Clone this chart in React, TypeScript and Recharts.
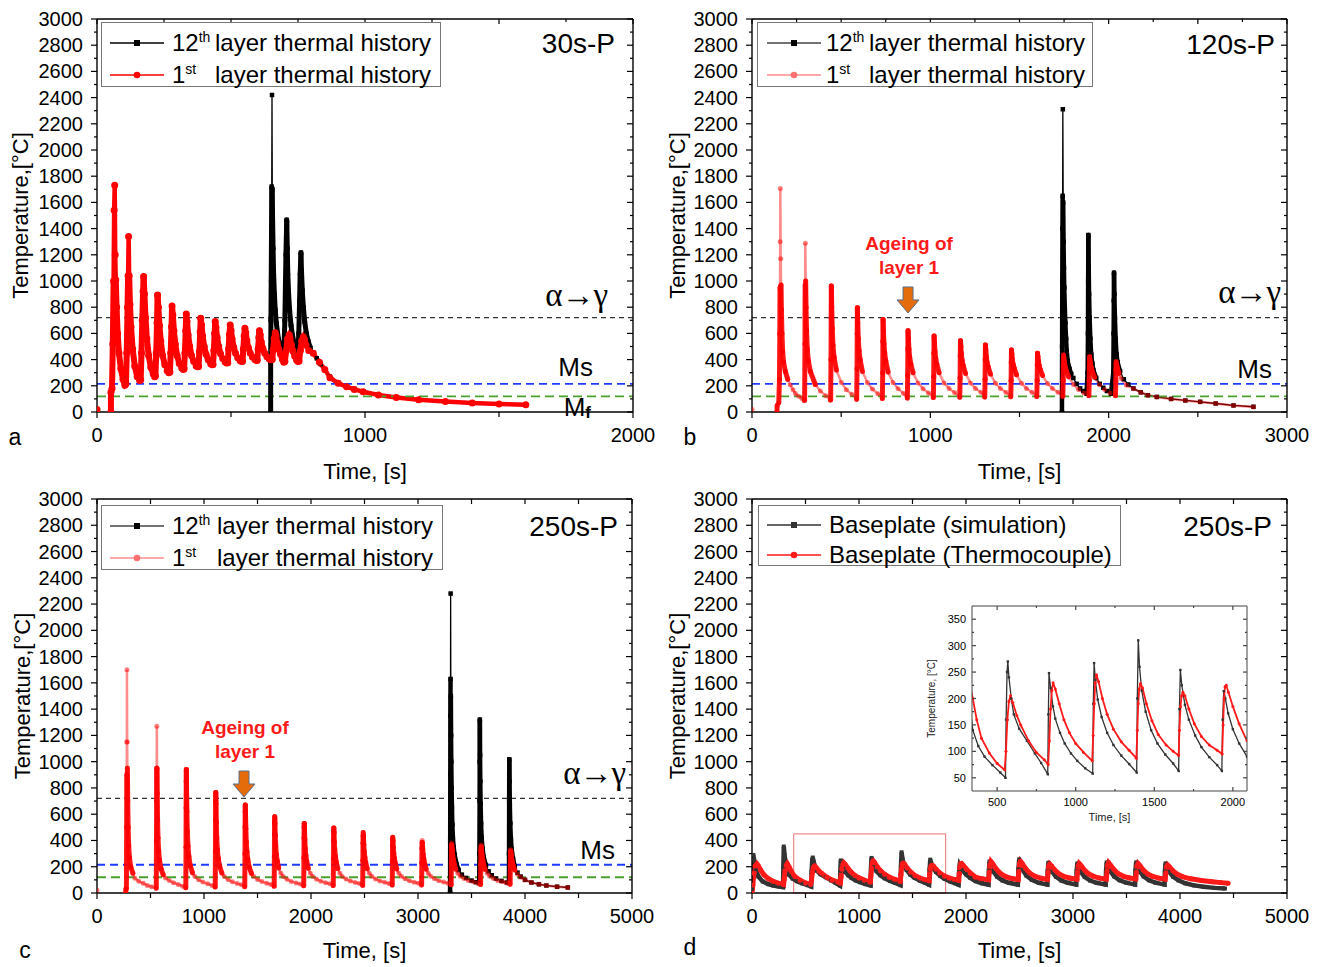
import React from "react";
import {
  LineChart,
  Line,
  XAxis,
  YAxis,
  ReferenceLine,
  ReferenceDot,
  ReferenceArea,
  Legend,
} from "recharts";

type Pt = [number, number | null];
type Row = { t: number; T: number | null };
const rows = (pts: Pt[]): Row[] => pts.map(([t, T]) => ({ t, T }));

// phase transformation temperatures, °C
const ALPHA_GAMMA = 720;
const MS_TEMP = 215;
const MF_TEMP = 120;

const Y_TICKS = [
  0, 100, 200, 300, 400, 500, 600, 700, 800, 900, 1000, 1100, 1200, 1300, 1400,
  1500, 1600, 1700, 1800, 1900, 2000, 2100, 2200, 2300, 2400, 2500, 2600, 2700,
  2800, 2900, 3000,
];
const X2000_TICKS = [0, 500, 1000, 1500, 2000];
const X2000_TOP = [0, 250, 500, 750, 1000, 1250, 1500, 1750, 2000];
const X3000_TICKS = [0, 500, 1000, 1500, 2000, 2500, 3000];
const X3000_TOP = [0, 250, 500, 750, 1000, 1250, 1500, 1750, 2000, 2250, 2500, 2750, 3000];
const X5000_TICKS = [0, 500, 1000, 1500, 2000, 2500, 3000, 3500, 4000, 4500, 5000];
const INSET_X_TICKS = [500, 750, 1000, 1250, 1500, 1750, 2000];
const INSET_Y_TICKS = [50, 75, 100, 125, 150, 175, 200, 225, 250, 275, 300, 325, 350];

// ---- a) 30s-P ----
const A_LAYER12: Pt[] = [
  [648, 0], [648, 380], [649, 700], [650, 1000], [651, 1300], [652, 1720], [653, 2420],
  [654, 1700], [655, 1500], [657, 1250], [659, 1050], [662, 900], [665, 780], [669, 680],
  [674, 600], [680, 530], [687, 480], [693, 460], [698, 500], [701, 700], [703, 950],
  [705, 1200], [708, 1466], [710, 1250], [712, 1050], [715, 900], [719, 770], [724, 660],
  [730, 580], [737, 510], [744, 470], [750, 465], [753, 600], [756, 850], [758, 1050],
  [761, 1216], [763, 1080], [766, 930], [770, 800], [775, 690], [781, 600], [788, 540],
  [796, 490], [807, 455], [820, 410], [835, 365], [850, 320], [869, 270], [900, 225],
  [931, 197], [960, 176], [993, 158], [1050, 132], [1117, 112], [1200, 96], [1300, 81],
  [1400, 71], [1500, 62], [1600, 56],
];
const A_LAYER1: Pt[] = [
  [0, 20], [1, null], [52, 0], [52, 150], [56, 180], [59, 520], [62, 1000], [64, 1540], [66, 1730],
  [68, 1200], [70, 1010], [73, 800], [77, 600], [82, 450], [89, 330], [97, 250], [104, 205],
  [108, 215], [111, 450], [114, 800], [116, 1040], [118, 1340], [120, 1040], [123, 820], [127, 650],
  [133, 480], [141, 350], [150, 270], [159, 240],
  [163, 245], [166, 450], [169, 700], [172, 920], [174, 1035], [177, 900], [181, 720], [186, 560],
  [193, 430], [201, 340], [210, 290], [215, 270],
  [218, 275], [221, 450], [224, 680], [226, 893], [229, 800], [233, 660], [238, 540], [245, 430],
  [253, 360], [262, 315], [268, 300],
  [272, 305], [275, 450], [278, 650], [280, 810], [283, 740], [287, 620], [292, 520], [299, 430],
  [307, 370], [316, 335], [322, 325],
  [325, 330], [328, 450], [331, 620], [333, 748], [336, 690], [340, 590], [346, 500], [353, 430],
  [361, 385], [370, 352], [376, 345],
  [379, 348], [382, 460], [385, 610], [387, 715], [390, 665], [394, 580], [400, 500], [407, 440],
  [415, 398], [424, 368], [430, 360],
  [433, 362], [436, 470], [439, 600], [441, 690], [444, 645], [448, 570], [454, 500], [461, 445],
  [469, 408], [478, 382], [484, 374],
  [488, 376], [491, 480], [494, 590], [497, 665], [500, 625], [504, 560], [510, 495], [517, 448],
  [525, 415], [534, 392], [540, 385],
  [543, 387], [546, 480], [549, 580], [552, 640], [555, 605], [559, 545], [565, 490], [572, 448],
  [580, 420], [589, 400], [595, 394],
  [598, 395], [601, 480], [604, 570], [606, 620], [609, 590], [613, 535], [619, 485], [626, 448],
  [634, 422], [643, 405], [650, 398],
  [654, 400], [657, 470], [661, 560], [665, 605], [668, 580], [672, 530], [678, 480], [685, 440],
  [692, 400], [697, 380],
  [701, 385], [706, 470], [711, 560], [717, 590], [720, 565], [725, 515], [731, 465], [738, 425],
  [745, 395], [750, 385],
  [754, 390], [759, 470], [764, 545], [770, 575], [774, 555], [780, 510], [790, 470], [807, 448],
  [830, 380], [850, 325], [869, 262], [900, 220], [931, 193], [960, 172], [993, 155], [1050, 130],
  [1117, 110], [1200, 94], [1300, 80], [1400, 69], [1500, 61], [1600, 55],
];

// ---- b) 120s-P ----
const B_LAYER12: Pt[] = [
  [1738, 0], [1739, 500], [1740, 1000], [1741, 1400], [1742, 1650], [1743, 2311], [1745, 1600],
  [1747, 1300], [1749, 1100], [1751, 950], [1754, 800], [1757, 680], [1761, 560], [1765, 460],
  [1770, 390], [1780, 330], [1790, 290], [1802, 260], [1820, 215], [1840, 180], [1858, 160],
  [1876, 140], [1882, 300], [1884, 600], [1885, 1000], [1886, 1351], [1888, 1100], [1890, 900],
  [1893, 720], [1897, 560], [1902, 440], [1908, 370], [1914, 320], [1930, 260], [1950, 215],
  [1970, 185], [1990, 160], [2013, 140], [2026, 300], [2028, 600], [2029, 850], [2030, 1063],
  [2032, 900], [2035, 720], [2039, 560], [2044, 440], [2050, 380], [2064, 310], [2085, 250],
  [2110, 210], [2139, 180], [2180, 150], [2220, 128], [2270, 115], [2350, 100], [2430, 88],
  [2513, 78], [2600, 65], [2700, 50], [2812, 40],
];
const B_LAYER1: Pt[] = [
  [0, 20], [1, null], [140, 0], [141, 50], [150, 70], [154, 250], [156, 600], [157, 950], [158, 1300],
  [159, 1707], [161, 1170], [163, 970], [165, 780], [168, 600], [172, 460], [177, 380], [187, 310],
  [200, 250], [215, 206], [230, 170], [243, 142], [262, 120], [280, 104], [293, 85],
  [295, 90], [297, 520], [298, 970], [299, 1288], [301, 1000], [303, 800], [306, 620], [310, 480],
  [316, 390], [327, 310], [355, 210], [383, 160], [414, 125], [439, 92],
  [441, 92], [443, 400], [444, 720], [445, 962], [447, 800], [450, 640], [454, 510], [460, 420],
  [473, 320], [501, 225], [529, 170], [560, 135], [587, 97],
  [589, 330], [590, 600], [591, 796], [593, 680], [596, 560], [600, 470], [606, 400], [619, 310],
  [647, 225], [675, 175], [706, 140], [731, 103],
  [733, 300], [734, 540], [735, 707], [737, 620], [740, 520], [744, 450], [750, 390], [763, 305],
  [791, 225], [819, 178], [850, 142], [871, 106],
  [873, 280], [874, 480], [875, 621], [877, 560], [880, 480], [884, 420], [890, 370], [903, 300],
  [931, 222], [959, 178], [990, 145], [1017, 110],
  [1019, 270], [1020, 450], [1021, 580], [1023, 530], [1026, 460], [1030, 410], [1036, 365],
  [1049, 300], [1077, 222], [1105, 180], [1136, 148], [1165, 112],
  [1167, 260], [1168, 430], [1169, 544], [1171, 500], [1174, 440], [1178, 395], [1184, 355],
  [1197, 295], [1225, 222], [1253, 180], [1284, 150], [1305, 114],
  [1307, 250], [1308, 400], [1309, 511], [1311, 475], [1314, 420], [1318, 380], [1324, 345],
  [1337, 290], [1365, 220], [1393, 180], [1424, 150], [1451, 116],
  [1453, 240], [1454, 380], [1455, 473], [1457, 445], [1460, 400], [1464, 365], [1470, 335],
  [1483, 285], [1511, 220], [1539, 180], [1570, 150], [1597, 118],
  [1599, 240], [1600, 360], [1601, 448], [1603, 425], [1606, 390], [1610, 355], [1616, 325],
  [1629, 280], [1657, 218], [1685, 180], [1716, 150], [1743, 120],
  [1745, 240], [1746, 350], [1747, 435], [1749, 415], [1752, 380], [1756, 345], [1762, 315],
  [1775, 270], [1803, 210], [1831, 172], [1862, 145], [1889, 125],
  [1891, 240], [1892, 340], [1893, 422], [1895, 405], [1898, 370], [1902, 340], [1908, 310],
  [1921, 265], [1949, 208], [1977, 172], [2008, 145], [2038, 125],
  [2040, 230], [2041, 320], [2042, 384], [2044, 370], [2047, 345], [2051, 320], [2057, 295],
  [2070, 255], [2100, 205], [2139, 178], [2180, 150], [2220, 128], [2270, 114], [2350, 100],
  [2430, 88], [2513, 77], [2600, 64], [2700, 50], [2812, 38],
];

// ---- c) 250s-P ----
const C_LAYER12: Pt[] = [
  [3300, 0], [3301, 400], [3302, 900], [3303, 1350], [3304, 1630], [3305, 2280], [3307, 1500],
  [3309, 1200], [3311, 1000], [3314, 800], [3317, 650], [3321, 520], [3326, 420], [3333, 350],
  [3343, 290], [3360, 220], [3380, 175], [3410, 140], [3450, 115], [3500, 95], [3540, 82],
  [3572, 75], [3574, 300], [3576, 700], [3577, 1000], [3578, 1320], [3580, 1050], [3582, 850],
  [3585, 680], [3589, 530], [3595, 420], [3603, 340], [3615, 270], [3635, 210], [3660, 165],
  [3690, 135], [3730, 110], [3780, 92], [3830, 80], [3850, 76], [3851, 300], [3852, 700],
  [3853, 1018], [3855, 850], [3858, 680], [3862, 530], [3868, 410], [3876, 330], [3888, 260],
  [3905, 200], [3930, 155], [3960, 125], [4000, 100], [4060, 80], [4130, 66], [4200, 57],
  [4300, 48], [4400, 42],
];
const C_LAYER1: Pt[] = [
  [0, 20], [1, null], [268, 0], [270, 30], [275, 35], [277, 500], [278, 900], [279, 1150], [280, 1700],
  [282, 1150], [284, 950], [287, 700], [291, 500], [296, 360], [303, 270], [315, 200], [335, 150],
  [354, 112], [390, 90], [432, 74], [470, 58], [511, 48], [554, 36],
  [556, 400], [557, 700], [558, 950], [559, 1270], [561, 950], [563, 760], [566, 560], [570, 420],
  [576, 320], [584, 250], [598, 185], [618, 140], [640, 115], [675, 95], [715, 78], [760, 65],
  [800, 52], [830, 40],
  [832, 350], [833, 650], [834, 850], [835, 940], [837, 800], [840, 620], [844, 470], [850, 360],
  [858, 280], [872, 205], [892, 155], [915, 125], [950, 100], [990, 83], [1035, 70], [1075, 58],
  [1105, 45],
  [1107, 320], [1108, 560], [1109, 700], [1110, 765], [1112, 680], [1115, 540], [1119, 420],
  [1125, 330], [1133, 265], [1147, 200], [1167, 152], [1190, 125], [1225, 102], [1265, 85],
  [1310, 73], [1350, 62], [1381, 48],
  [1383, 300], [1384, 500], [1385, 620], [1386, 670], [1388, 600], [1391, 490], [1395, 390],
  [1401, 315], [1409, 255], [1423, 195], [1443, 150], [1466, 125], [1501, 103], [1541, 87],
  [1586, 75], [1626, 65], [1656, 52],
  [1658, 280], [1659, 450], [1660, 540], [1661, 580], [1663, 530], [1666, 440], [1670, 360],
  [1676, 295], [1684, 245], [1698, 190], [1718, 150], [1741, 125], [1776, 104], [1816, 88],
  [1861, 77], [1901, 68], [1932, 55],
  [1934, 270], [1935, 420], [1936, 500], [1937, 530], [1939, 490], [1942, 410], [1946, 340],
  [1952, 285], [1960, 240], [1974, 188], [1994, 150], [2017, 126], [2052, 105], [2092, 90],
  [2137, 78], [2177, 70], [2208, 57],
  [2210, 260], [2211, 400], [2212, 470], [2213, 495], [2215, 460], [2218, 390], [2222, 330],
  [2228, 280], [2236, 236], [2250, 186], [2270, 150], [2293, 126], [2328, 106], [2368, 91],
  [2413, 80], [2453, 72], [2483, 58],
  [2485, 250], [2486, 380], [2487, 440], [2488, 460], [2490, 430], [2493, 370], [2497, 318],
  [2503, 272], [2511, 232], [2525, 185], [2545, 150], [2568, 127], [2603, 107], [2643, 92],
  [2688, 81], [2728, 73], [2759, 60],
  [2761, 240], [2762, 360], [2763, 410], [2764, 425], [2766, 400], [2769, 350], [2773, 305],
  [2779, 265], [2787, 228], [2801, 183], [2821, 150], [2844, 127], [2879, 108], [2919, 93],
  [2964, 82], [3004, 74], [3034, 61],
  [3036, 230], [3037, 340], [3038, 385], [3039, 400], [3041, 380], [3044, 335], [3048, 295],
  [3054, 258], [3062, 225], [3076, 182], [3096, 150], [3119, 128], [3154, 109], [3194, 94],
  [3239, 83], [3279, 75], [3310, 62],
  [3312, 230], [3313, 330], [3314, 365], [3315, 380], [3317, 362], [3320, 325], [3324, 290],
  [3330, 255], [3338, 222], [3352, 182], [3372, 150], [3395, 128], [3430, 110], [3470, 96],
  [3515, 85], [3555, 77], [3585, 64],
  [3587, 220], [3588, 320], [3589, 352], [3590, 365], [3592, 350], [3595, 315], [3599, 282],
  [3605, 250], [3613, 218], [3627, 180], [3647, 150], [3670, 128], [3705, 110], [3745, 96],
  [3790, 85], [3830, 77], [3861, 66],
  [3863, 210], [3864, 290], [3865, 320], [3866, 330], [3868, 318], [3871, 292], [3875, 265],
  [3881, 238], [3889, 210], [3905, 175], [3930, 142], [3960, 120], [4000, 100], [4060, 80],
  [4130, 66], [4200, 57], [4300, 48], [4400, 42],
];

// ---- d) 250s-P baseplate ----
const D_SIMULATION: Pt[] = [
  [0, 30], [5, 150], [12, 290], [20, 250], [35, 180], [60, 125], [100, 88], [150, 68], [200, 57],
  [250, 50], [290, 45], [293, 200], [297, 354], [305, 285], [320, 205], [345, 140], [380, 110],
  [420, 90], [470, 74], [520, 60], [553, 50], [557, 160], [563, 250], [568, 270], [575, 240],
  [590, 200], [606, 170], [640, 143], [690, 120], [740, 96], [780, 78], [822, 57], [826, 170],
  [830, 248], [840, 220], [855, 185], [870, 162], [900, 135], [930, 115], [970, 96], [1010, 82],
  [1060, 68], [1108, 58], [1112, 190], [1117, 267], [1125, 235], [1140, 198], [1165, 165],
  [1200, 135], [1240, 112], [1290, 92], [1340, 76], [1388, 60], [1392, 200], [1398, 310],
  [1406, 260], [1420, 215], [1445, 175], [1480, 140], [1520, 115], [1570, 94], [1620, 77],
  [1655, 63], [1660, 180], [1666, 254], [1675, 225], [1695, 188], [1720, 160], [1760, 130],
  [1800, 108], [1850, 89], [1900, 74], [1930, 63], [1935, 160], [1942, 214], [1952, 200],
  [1970, 172], [2000, 142], [2040, 115], [2090, 90], [2150, 74], [2210, 63], [2214, 170],
  [2220, 240], [2230, 215], [2255, 165], [2290, 125], [2340, 96], [2400, 78], [2485, 64],
  [2490, 180], [2497, 256], [2507, 225], [2530, 175], [2565, 132], [2615, 100], [2680, 78],
  [2760, 64], [2764, 165], [2770, 230], [2780, 208], [2805, 162], [2840, 124], [2890, 96],
  [2950, 78], [3030, 64], [3034, 165], [3040, 225], [3050, 205], [3075, 160], [3110, 122],
  [3160, 95], [3220, 78], [3305, 64], [3309, 170], [3315, 233], [3325, 212], [3350, 165],
  [3385, 126], [3435, 97], [3495, 79], [3580, 64], [3584, 170], [3590, 233], [3600, 212],
  [3625, 165], [3660, 126], [3710, 97], [3770, 79], [3855, 64], [3859, 165], [3865, 225],
  [3875, 205], [3900, 162], [3935, 125], [3985, 96], [4050, 74], [4130, 58], [4220, 47],
  [4320, 39], [4420, 34],
];
const D_THERMOCOUPLE: Pt[] = [
  [0, 0], [8, 60], [18, 150], [30, 205], [45, 222], [60, 205], [80, 175], [110, 140], [150, 110],
  [200, 88], [250, 74], [295, 62], [300, 100], [310, 170], [320, 210], [330, 222], [345, 200],
  [370, 160], [400, 125], [450, 97], [500, 77], [548, 65], [556, 100], [565, 160], [575, 195],
  [585, 205], [600, 192], [625, 168], [650, 150], [700, 120], [750, 98], [800, 84], [825, 75],
  [832, 120], [840, 180], [848, 215], [856, 230], [870, 218], [895, 190], [925, 160], [960, 135],
  [1000, 115], [1050, 98], [1105, 82], [1111, 130], [1118, 190], [1124, 230], [1132, 245],
  [1145, 232], [1170, 200], [1200, 170], [1240, 142], [1290, 118], [1340, 102], [1386, 87],
  [1392, 140], [1398, 190], [1404, 218], [1412, 228], [1425, 220], [1450, 190], [1485, 158],
  [1525, 132], [1575, 112], [1620, 100], [1655, 92], [1660, 140], [1667, 185], [1674, 205],
  [1682, 212], [1695, 205], [1720, 180], [1755, 152], [1800, 128], [1850, 112], [1900, 102],
  [1932, 95], [1938, 150], [1944, 200], [1950, 222], [1958, 225], [1972, 212], [2000, 185],
  [2040, 152], [2090, 120], [2150, 108], [2212, 100], [2218, 160], [2225, 215], [2233, 240],
  [2250, 222], [2280, 185], [2320, 150], [2370, 125], [2430, 110], [2488, 102], [2494, 165],
  [2501, 220], [2508, 242], [2525, 225], [2555, 188], [2595, 152], [2645, 127], [2705, 112],
  [2762, 104], [2768, 160], [2775, 205], [2782, 220], [2800, 205], [2830, 175], [2870, 145],
  [2920, 124], [2980, 112], [3037, 105], [3043, 160], [3050, 210], [3057, 225], [3075, 208],
  [3105, 176], [3145, 146], [3195, 125], [3255, 113], [3312, 106], [3318, 165], [3325, 215],
  [3332, 230], [3350, 212], [3380, 180], [3420, 148], [3470, 127], [3530, 114], [3587, 107],
  [3593, 160], [3600, 210], [3607, 225], [3625, 208], [3655, 176], [3695, 146], [3745, 126],
  [3805, 113], [3862, 106], [3868, 155], [3875, 200], [3882, 214], [3900, 200], [3930, 172],
  [3970, 145], [4020, 125], [4100, 108], [4200, 95], [4300, 85], [4380, 79], [4450, 75],
];

// ---------- drawing helpers ----------
const FONT = "'Liberation Sans', Arial, sans-serif";

type TickOpts = {
  vertical: boolean;
  toAxis: number;
  dir: 1 | -1;
  isMajor: (v: number) => boolean;
  majorLen: number;
  minorLen: number;
  color?: string;
  label?: { gap: number; size: number };
};

function makeTick(o: TickOpts) {
  const color = o.color || "#000";
  return (p: any) => {
    const v = p.payload?.value;
    const major = o.isMajor(v);
    const len = major ? o.majorLen : o.minorLen;
    if (o.vertical) {
      const ax = p.x + o.toAxis;
      return (
        <g>
          <line x1={ax} x2={ax + o.dir * len} y1={p.y} y2={p.y} stroke={color} strokeWidth={1.2} />
          {o.label && major ? (
            <text x={ax - o.label.gap} y={p.y} textAnchor="end" dominantBaseline="central" fontSize={o.label.size} fill="#000">
              {v}
            </text>
          ) : null}
        </g>
      );
    }
    const ay = p.y + o.toAxis;
    return (
      <g>
        <line x1={p.x} x2={p.x} y1={ay} y2={ay + o.dir * len} stroke={color} strokeWidth={1.2} />
        {o.label && major ? (
          <text x={p.x} y={ay + o.label.gap} textAnchor="middle" dominantBaseline="central" fontSize={o.label.size} fill="#000">
            {v}
          </text>
        ) : null}
      </g>
    );
  };
}

const leftTick = makeTick({ vertical: true, toAxis: 6, dir: -1, isMajor: (v) => v % 200 === 0, majorLen: 6, minorLen: 3, label: { gap: 14, size: 20 } });
const rightTick = makeTick({ vertical: true, toAxis: 6, dir: -1, isMajor: (v) => v % 200 === 0, majorLen: 6, minorLen: 3 });
const bottomTick = makeTick({ vertical: false, toAxis: -6, dir: 1, isMajor: (v) => v % 1000 === 0, majorLen: 6, minorLen: 5, label: { gap: 23, size: 20 } });
const topTick = makeTick({ vertical: false, toAxis: -6, dir: 1, isMajor: (v) => v % 500 === 0, majorLen: 5, minorLen: 3 });

const insetLeft = makeTick({ vertical: true, toAxis: -6, dir: 1, isMajor: (v) => v % 50 === 0, majorLen: 4, minorLen: 2, color: "#444", label: { gap: 6, size: 11 } });
const insetRight = makeTick({ vertical: true, toAxis: 6, dir: -1, isMajor: (v) => v % 50 === 0, majorLen: 4, minorLen: 2, color: "#444" });
const insetBottom = makeTick({ vertical: false, toAxis: 6, dir: -1, isMajor: (v) => v % 500 === 0, majorLen: 4, minorLen: 2, color: "#444", label: { gap: 11, size: 11 } });
const insetTop = makeTick({ vertical: false, toAxis: -6, dir: 1, isMajor: (v) => v % 500 === 0, majorLen: 4, minorLen: 2, color: "#444" });

type DotStyle = {
  kind: "circle" | "square";
  size: number;
  fill: string;
  seg?: { width: number; color: string; cap: number };
};

// marker for every sample; steep heating/cooling segments are drawn thicker,
// the way the densely sampled spikes look in the original figure
function makeDot(s: DotStyle) {
  return (p: any) => {
    const { cx, cy, index, points, payload } = p;
    const key = p.key ?? `dot-${index}`;
    if (cx == null || cy == null || payload?.T == null) return <g key={key} />;
    let seg: React.ReactNode = null;
    const n = points ? points[index + 1] : null;
    if (s.seg && n && n.y != null && n.payload?.T != null) {
      const dx = Math.abs(n.x - cx);
      const dy = Math.abs(n.y - cy);
      const hi = Math.max(payload.T, n.payload.T);
      if (dy > 2.5 * dx && dy > 3 && hi <= s.seg.cap) {
        seg = <line x1={cx} y1={cy} x2={n.x} y2={n.y} stroke={s.seg.color} strokeWidth={s.seg.width} strokeLinecap="round" />;
      }
    }
    const mark =
      s.kind === "square" ? (
        <rect x={cx - s.size / 2} y={cy - s.size / 2} width={s.size} height={s.size} fill={s.fill} />
      ) : (
        <circle cx={cx} cy={cy} r={s.size / 2} fill={s.fill} />
      );
    return (
      <g key={key}>
        {seg}
        {mark}
      </g>
    );
  };
}

const lineLabel =
  (text: React.ReactNode, fromRight: number, dy: number, size: number, family?: string, spacing?: number) =>
  (p: any) => {
    const vb = p.viewBox || {};
    return (
      <text x={vb.x + vb.width - fromRight} y={vb.y + dy} textAnchor="end" fontSize={size} fontFamily={family} letterSpacing={spacing} fill="#000">
        {text}
      </text>
    );
  };

const AgeingMark = (p: any) => {
  const { cx, cy } = p;
  return (
    <g>
      <text x={cx + 1} y={cy - 69} textAnchor="middle" dominantBaseline="central" fontSize={19} fontWeight="bold" fill="#ff1a1a">
        Ageing of
      </text>
      <text x={cx + 1} y={cy - 45} textAnchor="middle" dominantBaseline="central" fontSize={19} fontWeight="bold" fill="#ff1a1a">
        layer 1
      </text>
      <path d={`M${cx - 5},${cy - 26} h10 v13 h6 l-11,13 l-11,-13 h6 z`} fill="#e46c0a" stroke="#5b6f8a" strokeWidth={1} />
    </g>
  );
};

type LegendRow = { sym: "square" | "circle"; line: string; fill: string; lead: React.ReactNode; rest?: string };
type LegendBox = { left: number; top: number; width: number; height: number; lineX: number; textX: number; restX: number; rows: LegendRow[] };

function legendContent(b: LegendBox) {
  return () => (
    <div
      style={{
        position: "relative",
        width: b.width,
        height: b.height,
        border: "1px solid #777",
        boxSizing: "border-box",
        background: "#fff",
        fontFamily: FONT,
        color: "#000",
      }}
    >
      {b.rows.map((r, i) => {
        const cy = i === 0 ? b.height * 0.31 : b.height * 0.8;
        return (
          <div key={i}>
            <svg style={{ position: "absolute", left: b.lineX, top: cy - 7 }} width={56} height={14}>
              <line x1={0} x2={54} y1={7} y2={7} stroke={r.line} strokeWidth={1.5} />
              {r.sym === "square" ? <rect x={24} y={4} width={6} height={6} fill={r.fill} /> : <circle cx={27} cy={7} r={3.3} fill={r.fill} />}
            </svg>
            <span style={{ position: "absolute", left: b.textX, top: cy, transform: "translateY(-50%)", fontSize: 24, lineHeight: "26px", whiteSpace: "nowrap" }}>
              {r.lead}
            </span>
            {r.rest ? (
              <span style={{ position: "absolute", left: b.restX, top: cy, transform: "translateY(-50%)", fontSize: 24, lineHeight: "26px", whiteSpace: "nowrap" }}>
                {r.rest}
              </span>
            ) : null}
          </div>
        );
      })}
    </div>
  );
}

const sup = (s: string) => <sup style={{ fontSize: 14, verticalAlign: "9px", lineHeight: 0 }}>{s}</sup>;

type PanelCfg = {
  left: number;
  top: number;
  width: number;
  height: number;
  yAxisW: number;
  marginTop: number;
  marginRight: number;
  xAxisH: number;
  xMax: number;
  xTicks: number[];
  topTicks: number[];
  xTitleDy: number;
  yTitleX: number;
  legend: LegendBox;
};

function Panel({ cfg, children }: { cfg: PanelCfg; children: React.ReactNode }) {
  const frame = { stroke: "#000", strokeWidth: 1.4 };
  return (
    <div style={{ position: "absolute", left: cfg.left, top: cfg.top }}>
      <LineChart width={cfg.width} height={cfg.height} margin={{ top: cfg.marginTop, right: cfg.marginRight, bottom: 0, left: 0 }}>
        <XAxis
          xAxisId="b"
          dataKey="t"
          type="number"
          domain={[0, cfg.xMax]}
          ticks={cfg.xTicks}
          interval={0}
          height={cfg.xAxisH}
          tickSize={6}
          tickMargin={0}
          tickLine={false}
          axisLine={frame}
          tick={bottomTick}
          allowDataOverflow
          label={(p: any) => (
            <text x={p.viewBox.x + p.viewBox.width / 2} y={p.viewBox.y + cfg.xTitleDy} textAnchor="middle" dominantBaseline="central" fontSize={22} fill="#000">
              Time, [s]
            </text>
          )}
        />
        <XAxis
          xAxisId="t"
          dataKey="t"
          orientation="top"
          mirror
          type="number"
          domain={[0, cfg.xMax]}
          ticks={cfg.topTicks}
          interval={0}
          tickSize={6}
          tickMargin={0}
          tickLine={false}
          axisLine={frame}
          tick={topTick}
          allowDataOverflow
        />
        <YAxis
          yAxisId="l"
          type="number"
          domain={[0, 3000]}
          ticks={Y_TICKS}
          interval={0}
          width={cfg.yAxisW}
          tickSize={6}
          tickMargin={0}
          tickLine={false}
          axisLine={frame}
          tick={leftTick}
          allowDataOverflow
          label={(p: any) => {
            const x = p.viewBox.x + cfg.yTitleX;
            const y = p.viewBox.y + p.viewBox.height / 2;
            return (
              <text x={x} y={y} transform={`rotate(-90 ${x} ${y})`} textAnchor="middle" dominantBaseline="central" fontSize={22} fill="#000">
                Temperature,[°C]
              </text>
            );
          }}
        />
        <YAxis
          yAxisId="r"
          orientation="right"
          mirror
          type="number"
          domain={[0, 3000]}
          ticks={Y_TICKS}
          interval={0}
          tickSize={6}
          tickMargin={0}
          tickLine={false}
          axisLine={frame}
          tick={rightTick}
          allowDataOverflow
        />
        {children}
        <Legend
          layout="vertical"
          align="center"
          verticalAlign="middle"
          wrapperStyle={{ left: cfg.legend.left, top: cfg.legend.top, width: cfg.legend.width, height: cfg.legend.height }}
          content={legendContent(cfg.legend)}
        />
      </LineChart>
    </div>
  );
}

const redOpaque = makeDot({ kind: "circle", size: 7, fill: "#ff0000", seg: { width: 6, color: "#ff0000", cap: 1100 } });
const blackA = makeDot({ kind: "square", size: 4.5, fill: "#000", seg: { width: 5, color: "#000", cap: 1750 } });
const redSoft = makeDot({ kind: "circle", size: 5, fill: "rgba(255,0,0,0.5)", seg: { width: 5, color: "rgba(255,0,0,0.9)", cap: 1000 } });
const blackBC = makeDot({ kind: "square", size: 4.5, fill: "#000", seg: { width: 4.5, color: "#000", cap: 1700 } });
const blackD = makeDot({ kind: "square", size: 4, fill: "#333" });
const redD = makeDot({ kind: "circle", size: 5, fill: "#ff1a1a" });
const blackInset = makeDot({ kind: "square", size: 2.4, fill: "#333" });
const redInset = makeDot({ kind: "circle", size: 3, fill: "#ff1a1a" });

const SERIF = "'Liberation Serif', 'DejaVu Serif', serif";

const phaseLines = (agRight: number, agDy: number, msRight: number, msDy: number, withMf: boolean) => [
  <ReferenceLine
    key="ag"
    xAxisId="b"
    yAxisId="l"
    y={ALPHA_GAMMA}
    stroke="#333"
    strokeWidth={1.3}
    strokeDasharray="5 4"
    label={lineLabel("α→γ", agRight, agDy, 33, SERIF, -1)}
  />,
  <ReferenceLine key="ms" xAxisId="b" yAxisId="l" y={MS_TEMP} stroke="#1f3bff" strokeWidth={1.8} strokeDasharray="8 5" label={lineLabel("Ms", msRight, msDy, 26)} />,
  <ReferenceLine
    key="mf"
    xAxisId="b"
    yAxisId="l"
    y={MF_TEMP}
    stroke="#4aa02c"
    strokeWidth={1.8}
    strokeDasharray="9 5"
    label={
      withMf
        ? lineLabel(
            <>
              M<tspan fontSize={17} fontWeight="bold" dy={2}>f</tspan>
            </>,
            42,
            20,
            26
          )
        : undefined
    }
  />,
];

const twoLayerRows = (soft: boolean): LegendRow[] => [
  { sym: "square", line: soft ? "#444" : "#000", fill: "#000", lead: <>12{sup("th")}</>, rest: "layer thermal history" },
  { sym: "circle", line: soft ? "#ff8c8c" : "#ff0000", fill: soft ? "#ff7070" : "#ff0000", lead: <>1{sup("st")}</>, rest: "layer thermal history" },
];

const PANEL_A: PanelCfg = {
  left: 0, top: 0, width: 660, height: 490, yAxisW: 97, marginTop: 19, marginRight: 27, xAxisH: 78,
  xMax: 2000, xTicks: X2000_TICKS, topTicks: X2000_TOP, xTitleDy: 59, yTitleX: 20,
  legend: { left: 101, top: 22, width: 340, height: 65, lineX: 8, textX: 70, restX: 113, rows: twoLayerRows(false) },
};
const PANEL_B: PanelCfg = {
  left: 656, top: 0, width: 660, height: 490, yAxisW: 96, marginTop: 19, marginRight: 29, xAxisH: 78,
  xMax: 3000, xTicks: X3000_TICKS, topTicks: X3000_TOP, xTitleDy: 59, yTitleX: 21,
  legend: { left: 101, top: 22, width: 336, height: 65, lineX: 9, textX: 68, restX: 111, rows: twoLayerRows(true) },
};
const PANEL_C: PanelCfg = {
  left: 0, top: 480, width: 660, height: 487, yAxisW: 97, marginTop: 19, marginRight: 28, xAxisH: 74,
  xMax: 5000, xTicks: X5000_TICKS, topTicks: X5000_TICKS, xTitleDy: 57, yTitleX: 22,
  legend: { left: 101, top: 25, width: 342, height: 65, lineX: 8, textX: 70, restX: 115, rows: twoLayerRows(true) },
};
const PANEL_D: PanelCfg = {
  left: 656, top: 480, width: 660, height: 487, yAxisW: 96, marginTop: 19, marginRight: 29, xAxisH: 74,
  xMax: 5000, xTicks: X5000_TICKS, topTicks: X5000_TICKS, xTitleDy: 57, yTitleX: 21,
  legend: {
    left: 102, top: 25, width: 363, height: 61, lineX: 8, textX: 70, restX: 0,
    rows: [
      { sym: "square", line: "#333", fill: "#333", lead: "Baseplate (simulation)" },
      { sym: "circle", line: "#ff1a1a", fill: "#ff1a1a", lead: "Baseplate (Thermocouple)" },
    ],
  },
};

function Inset() {
  const frame = { stroke: "#444", strokeWidth: 1 };
  return (
    <div style={{ position: "absolute", left: 920, top: 600 }}>
      <LineChart width={340} height={255} margin={{ top: 6, right: 13, bottom: 64, left: 52 }}>
        <XAxis
          xAxisId="b"
          dataKey="t"
          type="number"
          mirror
          domain={[340, 2090]}
          ticks={INSET_X_TICKS}
          interval={0}
          tickSize={6}
          tickMargin={0}
          tickLine={false}
          axisLine={frame}
          tick={insetBottom}
          allowDataOverflow
          label={(p: any) => (
            <text x={p.viewBox.x + p.viewBox.width / 2} y={p.viewBox.y + p.viewBox.height + 26} textAnchor="middle" dominantBaseline="central" fontSize={11} fill="#222">
              Time, [s]
            </text>
          )}
        />
        <XAxis xAxisId="t" dataKey="t" type="number" orientation="top" mirror domain={[340, 2090]} ticks={INSET_X_TICKS} interval={0} tickSize={6} tickMargin={0} tickLine={false} axisLine={frame} tick={insetTop} allowDataOverflow />
        <YAxis
          yAxisId="l"
          type="number"
          mirror
          domain={[25, 375]}
          ticks={INSET_Y_TICKS}
          interval={0}
          tickSize={6}
          tickMargin={0}
          tickLine={false}
          axisLine={frame}
          tick={insetLeft}
          allowDataOverflow
          label={(p: any) => {
            const x = p.viewBox.x - 41;
            const y = p.viewBox.y + p.viewBox.height / 2;
            return (
              <text x={x} y={y} transform={`rotate(-90 ${x} ${y})`} textAnchor="middle" dominantBaseline="central" fontSize={10} fill="#222">
                Temperature, [°C]
              </text>
            );
          }}
        />
        <YAxis yAxisId="r" type="number" orientation="right" mirror domain={[25, 375]} ticks={INSET_Y_TICKS} interval={0} tickSize={6} tickMargin={0} tickLine={false} axisLine={frame} tick={insetRight} allowDataOverflow />
        <Line xAxisId="b" yAxisId="l" data={rows(D_SIMULATION)} dataKey="T" stroke="#333" strokeWidth={1.3} dot={blackInset} activeDot={false} isAnimationActive={false} />
        <Line xAxisId="b" yAxisId="l" data={rows(D_THERMOCOUPLE)} dataKey="T" stroke="#ff1a1a" strokeWidth={1.8} dot={redInset} activeDot={false} isAnimationActive={false} />
      </LineChart>
    </div>
  );
}

const corner = (text: string, right: number, cy: number, size: number) => (
  <div style={{ position: "absolute", left: right - 200, width: 200, top: cy - size / 2 - 2, textAlign: "right", fontSize: size, lineHeight: `${size + 4}px` }}>
    {text}
  </div>
);
const letter = (text: string, cx: number, cy: number) => (
  <div style={{ position: "absolute", left: cx - 10, width: 20, top: cy - 13, textAlign: "center", fontSize: 23, lineHeight: "26px" }}>{text}</div>
);

export default function App() {
  return (
    <div style={{ position: "absolute", left: 0, top: 0, width: 1324, height: 967, background: "#fff", fontFamily: FONT, color: "#000" }}>
      <Panel cfg={PANEL_A}>
        <Line xAxisId="b" yAxisId="l" data={rows(A_LAYER12)} dataKey="T" stroke="#000" strokeWidth={1.3} dot={blackA} activeDot={false} isAnimationActive={false} />
        <Line xAxisId="b" yAxisId="l" data={rows(A_LAYER1)} dataKey="T" stroke="#ff0000" strokeWidth={4.5} dot={redOpaque} activeDot={false} isAnimationActive={false} />
        {phaseLines(26, -12, 40, -8, true)}
      </Panel>
      <Panel cfg={PANEL_B}>
        <Line xAxisId="b" yAxisId="l" data={rows(B_LAYER12)} dataKey="T" stroke="#000" strokeWidth={1.3} dot={blackBC} activeDot={false} isAnimationActive={false} />
        <Line xAxisId="b" yAxisId="l" data={rows(B_LAYER1)} dataKey="T" stroke="rgba(255,0,0,0.45)" strokeWidth={2.5} dot={redSoft} activeDot={false} isAnimationActive={false} />
        {phaseLines(7, -15, 15, -6, false)}
        <ReferenceDot xAxisId="b" yAxisId="l" x={875} y={756} r={0} shape={AgeingMark} />
      </Panel>
      <Panel cfg={PANEL_C}>
        <Line xAxisId="b" yAxisId="l" data={rows(C_LAYER12)} dataKey="T" stroke="#000" strokeWidth={1.3} dot={blackBC} activeDot={false} isAnimationActive={false} />
        <Line xAxisId="b" yAxisId="l" data={rows(C_LAYER1)} dataKey="T" stroke="rgba(255,0,0,0.45)" strokeWidth={2.5} dot={redSoft} activeDot={false} isAnimationActive={false} />
        {phaseLines(7, -14, 17, -6, false)}
        <ReferenceDot xAxisId="b" yAxisId="l" x={1374} y={731} r={0} shape={AgeingMark} />
      </Panel>
      <Panel cfg={PANEL_D}>
        <Line xAxisId="b" yAxisId="l" data={rows(D_SIMULATION)} dataKey="T" stroke="#333" strokeWidth={4.5} dot={blackD} activeDot={false} isAnimationActive={false} />
        <Line xAxisId="b" yAxisId="l" data={rows(D_THERMOCOUPLE)} dataKey="T" stroke="#ff1a1a" strokeWidth={5} dot={redD} activeDot={false} isAnimationActive={false} />
        <ReferenceArea xAxisId="b" yAxisId="l" x1={390} x2={1810} y1={0} y2={450} fill="none" stroke="#f07070" strokeWidth={1} />
      </Panel>
      <Inset />
      {corner("30s-P", 615, 44, 28)}
      {corner("120s-P", 1275, 45, 28)}
      {corner("250s-P", 618, 527, 28)}
      {corner("250s-P", 1272, 527, 28)}
      {letter("a", 15, 437)}
      {letter("b", 690, 437)}
      {letter("c", 25, 950)}
      {letter("d", 690, 947)}
    </div>
  );
}
